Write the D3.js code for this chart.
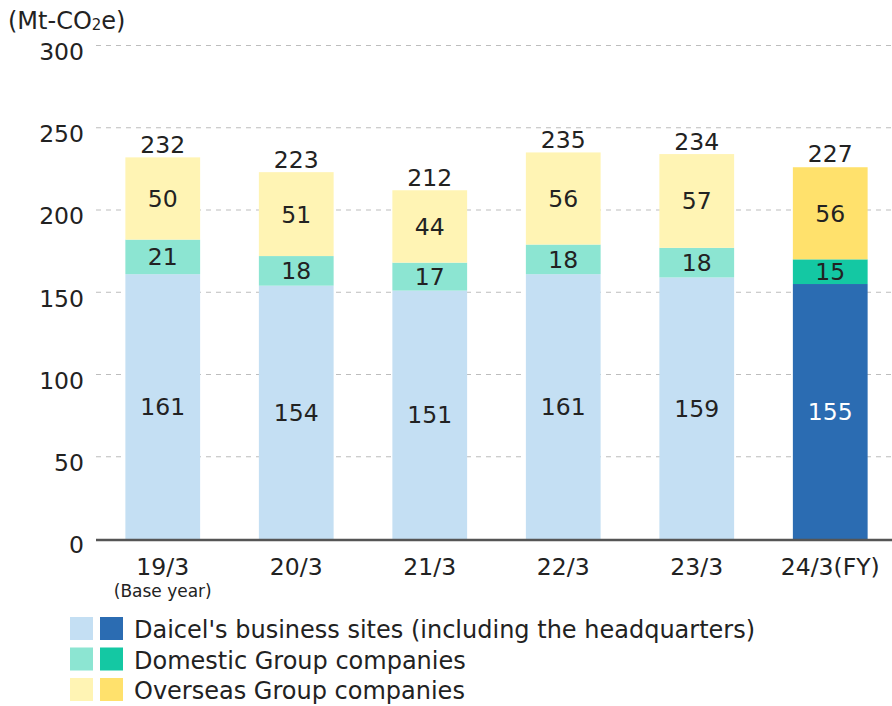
<!DOCTYPE html>
<html>
<head>
<meta charset="utf-8">
<style>
    body { margin: 0; background: #fff; }
    svg { font-family: "DejaVu Sans", sans-serif; }
    .grid line { stroke: #bdbdbd; stroke-dasharray: 5,5; }
    text { fill: #222; }
</style>
</head>
<body>
<script src="https://d3js.org/d3.v7.min.js"></script>
<script>
// data
var years = ["19/3", "20/3", "21/3", "22/3", "23/3", "24/3(FY)"];
var sites = [161, 154, 151, 161, 159, 155];
var domestic = [21, 18, 17, 18, 18, 15];
var overseas = [50, 51, 44, 56, 57, 56];
var totals = [232, 223, 212, 235, 234, 227];
var yTicks = [0, 50, 100, 150, 200, 250, 300];
var seriesNames = ["Daicel's business sites (including the headquarters)",
    "Domestic Group companies", "Overseas Group companies"];

// light colours for past years, strong colours for latest year
var lightColors = ["#c4dff3", "#8ce5d2", "#fff4b4"];
var darkColors = ["#2b6cb2", "#14c8a3", "#ffe16c"];

var width = 892, height = 706;
var fs = "23.5px";

var svg = d3.select("body").append("svg")
    .attr("width", width)
    .attr("height", height);

var x = d3.scaleBand()
    .domain(years)
    .range([96, 897])
    .paddingInner(0.44)
    .paddingOuter(0.22);

var y = d3.scaleLinear()
    .domain([0, 300])
    .range([539, 45.5]);

// gridlines
svg.append("g").attr("class", "grid")
    .selectAll("line")
    .data(yTicks.filter(function (d) { return d > 0; }))
    .enter().append("line")
    .attr("x1", 96).attr("x2", width)
    .attr("y1", function (d) { return y(d); })
    .attr("y2", function (d) { return y(d); });

// y tick labels (sit a little below their gridline)
svg.append("g").selectAll("text")
    .data(yTicks)
    .enter().append("text")
    .attr("x", 84)
    .attr("y", function (d) { return y(d) + 6; })
    .attr("dy", "0.36em")
    .attr("text-anchor", "end")
    .style("font-size", fs)
    .text(function (d) { return d; });

// unit label
var unit = svg.append("text")
    .attr("x", 8).attr("y", 29)
    .style("font-size", "24px");
unit.append("tspan").text("(Mt-CO");
unit.append("tspan").text("2").style("font-size", "15px").attr("dy", 1);
unit.append("tspan").text("e)").attr("dy", -1);

// stack
var rows = years.map(function (yr, i) {
    return { year: yr, i: i, s0: sites[i], s1: domestic[i], s2: overseas[i] };
});
var stack = d3.stack().keys(["s0", "s1", "s2"])(rows);

var layers = svg.selectAll(".layer")
    .data(stack)
    .enter().append("g")
    .attr("class", "layer");

layers.selectAll("rect")
    .data(function (d, k) { return d.map(function (p) { return { p: p, k: k }; }); })
    .enter().append("rect")
    .attr("x", function (d) { return x(d.p.data.year); })
    .attr("width", x.bandwidth())
    .attr("y", function (d) { return y(d.p[1]); })
    .attr("height", function (d) { return y(d.p[0]) - y(d.p[1]); })
    .attr("fill", function (d) {
        return d.p.data.i === years.length - 1 ? darkColors[d.k] : lightColors[d.k];
    });

layers.selectAll("text")
    .data(function (d, k) { return d.map(function (p) { return { p: p, k: k }; }); })
    .enter().append("text")
    .attr("x", function (d) { return x(d.p.data.year) + x.bandwidth() / 2; })
    .attr("y", function (d) { return (y(d.p[0]) + y(d.p[1])) / 2; })
    .attr("dy", "0.36em")
    .attr("text-anchor", "middle")
    .style("font-size", fs)
    .style("fill", function (d) {
        return (d.p.data.i === years.length - 1 && d.k === 0) ? "#fff" : "#222";
    })
    .text(function (d) { return d.p[1] - d.p[0]; });

// totals
svg.append("g").selectAll("text")
    .data(years)
    .enter().append("text")
    .attr("x", function (d) { return x(d) + x.bandwidth() / 2; })
    .attr("y", function (d, i) { return y(totals[i]) - 4; })
    .attr("text-anchor", "middle")
    .style("font-size", fs)
    .text(function (d, i) { return totals[i]; });

// baseline
svg.append("line")
    .attr("x1", 96).attr("x2", width)
    .attr("y1", y(0) + 1).attr("y2", y(0) + 1)
    .attr("stroke", "#555").attr("stroke-width", 2.5);

// x labels
svg.append("g").selectAll("text")
    .data(years)
    .enter().append("text")
    .attr("x", function (d) { return x(d) + x.bandwidth() / 2; })
    .attr("y", 575)
    .attr("text-anchor", "middle")
    .style("font-size", fs)
    .text(function (d) { return d; });

svg.append("text")
    .attr("x", x(years[0]) + x.bandwidth() / 2)
    .attr("y", 597)
    .attr("text-anchor", "middle")
    .style("font-size", "17px")
    .text("(Base year)");

// legend
var legend = svg.selectAll(".legend")
    .data(seriesNames)
    .enter().append("g")
    .attr("class", "legend")
    .attr("transform", function (d, i) { return "translate(70," + (617 + i * 30.5) + ")"; });

legend.append("rect")
    .attr("width", 23).attr("height", 23)
    .attr("fill", function (d, i) { return lightColors[i]; });
legend.append("rect")
    .attr("x", 30)
    .attr("width", 23).attr("height", 23)
    .attr("fill", function (d, i) { return darkColors[i]; });
legend.append("text")
    .attr("x", 64).attr("y", 21)
    .style("font-size", "24px")
    .text(function (d) { return d; });
</script>
</body>
</html>
